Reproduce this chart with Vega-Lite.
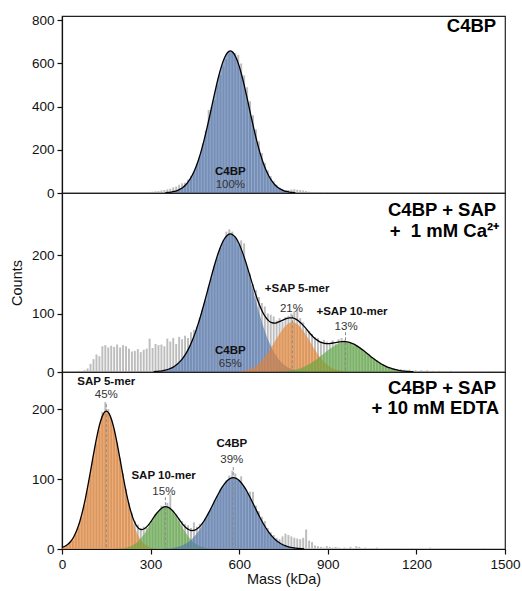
{
"$schema": "https://vega.github.io/schema/vega-lite/v6.json",
"padding": {"top": 12, "left": 8, "right": 3, "bottom": 5},
"background": "white",
"config": {
 "font": "Liberation Sans",
 "view": {"stroke": "#222", "strokeWidth": 1.2},
 "axis": {"grid": false, "domainColor": "#111", "tickColor": "#111", "labelColor": "#111", "labelFontSize": 13.5, "titleFontSize": 14.5, "titleFontWeight": "normal", "titleColor": "#111", "tickSize": 5, "labelPadding": 3, "domainWidth": 1.2, "tickWidth": 1.2, "labelFlush": false}
},
"datasets": {
"bars1": [
{"m":205,"c":1},{"m":235,"c":2},{"m":255,"c":2},{"m":265,"c":3},{"m":275,"c":2},{"m":285,"c":4},{"m":295,"c":5},{"m":305,"c":6},{"m":315,"c":8},{"m":325,"c":9},{"m":335,"c":12},{"m":345,"c":14},{"m":355,"c":17},{"m":365,"c":20},{"m":375,"c":26},{"m":385,"c":30},{"m":395,"c":38},{"m":405,"c":45},{"m":415,"c":48},{"m":425,"c":62},{"m":435,"c":80},{"m":445,"c":98},{"m":455,"c":135},{"m":465,"c":170},{"m":475,"c":230},{"m":485,"c":290},{"m":495,"c":385},{"m":505,"c":400},{"m":515,"c":430},{"m":525,"c":500},{"m":535,"c":545},{"m":545,"c":590},{"m":555,"c":620},{"m":565,"c":650},{"m":575,"c":655},{"m":585,"c":648},{"m":595,"c":640},{"m":605,"c":600},{"m":615,"c":545},{"m":625,"c":490},{"m":635,"c":425},{"m":645,"c":360},{"m":655,"c":295},{"m":665,"c":240},{"m":675,"c":185},{"m":685,"c":140},{"m":695,"c":105},{"m":705,"c":78},{"m":715,"c":55},{"m":725,"c":38},{"m":735,"c":26},{"m":745,"c":18},{"m":755,"c":13},{"m":765,"c":14},{"m":775,"c":16},{"m":785,"c":17},{"m":795,"c":15},{"m":805,"c":14},{"m":815,"c":12},{"m":825,"c":9},{"m":835,"c":6},{"m":845,"c":5},{"m":855,"c":4},{"m":865,"c":3},{"m":875,"c":2},{"m":895,"c":3},{"m":915,"c":2},{"m":945,"c":1},{"m":975,"c":2},{"m":1005,"c":2},{"m":1035,"c":1},{"m":1075,"c":2},{"m":1105,"c":1},{"m":1155,"c":1},{"m":1205,"c":2},{"m":1265,"c":1},{"m":1325,"c":1}
],
"bars2": [
{"m":45,"c":1},{"m":55,"c":2},{"m":65,"c":1},{"m":75,"c":3},{"m":85,"c":6},{"m":95,"c":14},{"m":105,"c":22},{"m":115,"c":30},{"m":125,"c":27},{"m":135,"c":44},{"m":145,"c":46},{"m":155,"c":42},{"m":165,"c":45},{"m":175,"c":43},{"m":185,"c":47},{"m":195,"c":42},{"m":205,"c":46},{"m":215,"c":44},{"m":225,"c":40},{"m":235,"c":35},{"m":245,"c":36},{"m":255,"c":39},{"m":265,"c":34},{"m":275,"c":38},{"m":285,"c":40},{"m":295,"c":57},{"m":305,"c":41},{"m":315,"c":48},{"m":325,"c":46},{"m":335,"c":47},{"m":345,"c":44},{"m":355,"c":57},{"m":365,"c":52},{"m":375,"c":58},{"m":385,"c":48},{"m":395,"c":60},{"m":405,"c":56},{"m":415,"c":62},{"m":425,"c":58},{"m":435,"c":68},{"m":445,"c":72},{"m":455,"c":78},{"m":465,"c":92},{"m":475,"c":108},{"m":485,"c":122},{"m":495,"c":145},{"m":505,"c":160},{"m":515,"c":182},{"m":525,"c":195},{"m":535,"c":212},{"m":545,"c":226},{"m":555,"c":240},{"m":565,"c":244},{"m":575,"c":240},{"m":585,"c":232},{"m":595,"c":216},{"m":605,"c":225},{"m":615,"c":220},{"m":625,"c":180},{"m":635,"c":168},{"m":645,"c":150},{"m":655,"c":140},{"m":665,"c":128},{"m":675,"c":118},{"m":685,"c":112},{"m":695,"c":100},{"m":705,"c":98},{"m":715,"c":95},{"m":725,"c":88},{"m":735,"c":92},{"m":745,"c":86},{"m":755,"c":94},{"m":765,"c":96},{"m":775,"c":100},{"m":785,"c":104},{"m":795,"c":108},{"m":805,"c":92},{"m":815,"c":85},{"m":825,"c":74},{"m":835,"c":70},{"m":845,"c":65},{"m":855,"c":60},{"m":865,"c":58},{"m":875,"c":52},{"m":885,"c":55},{"m":895,"c":52},{"m":905,"c":50},{"m":915,"c":54},{"m":925,"c":48},{"m":935,"c":56},{"m":945,"c":58},{"m":955,"c":55},{"m":965,"c":50},{"m":975,"c":48},{"m":985,"c":44},{"m":995,"c":46},{"m":1005,"c":40},{"m":1015,"c":38},{"m":1025,"c":33},{"m":1035,"c":30},{"m":1045,"c":26},{"m":1055,"c":24},{"m":1065,"c":20},{"m":1075,"c":16},{"m":1085,"c":13},{"m":1095,"c":10},{"m":1105,"c":8},{"m":1115,"c":6},{"m":1125,"c":5},{"m":1135,"c":4},{"m":1145,"c":5},{"m":1155,"c":4},{"m":1165,"c":3},{"m":1175,"c":4},{"m":1185,"c":2},{"m":1195,"c":3},{"m":1205,"c":2},{"m":1215,"c":3},{"m":1225,"c":2},{"m":1235,"c":3},{"m":1245,"c":1},{"m":1255,"c":2},{"m":1275,"c":2},{"m":1295,"c":1},{"m":1315,"c":2},{"m":1345,"c":1},{"m":1375,"c":1},{"m":1405,"c":1},{"m":1445,"c":1}
],
"bars3": [
{"m":5,"c":2},{"m":15,"c":4},{"m":25,"c":7},{"m":35,"c":12},{"m":45,"c":20},{"m":55,"c":30},{"m":65,"c":44},{"m":75,"c":62},{"m":85,"c":82},{"m":95,"c":106},{"m":105,"c":128},{"m":115,"c":150},{"m":125,"c":170},{"m":135,"c":196},{"m":145,"c":210},{"m":155,"c":200},{"m":165,"c":186},{"m":175,"c":170},{"m":185,"c":152},{"m":195,"c":130},{"m":205,"c":108},{"m":215,"c":86},{"m":225,"c":66},{"m":235,"c":52},{"m":245,"c":40},{"m":255,"c":35},{"m":265,"c":30},{"m":275,"c":32},{"m":285,"c":30},{"m":295,"c":36},{"m":305,"c":40},{"m":315,"c":50},{"m":325,"c":54},{"m":335,"c":62},{"m":345,"c":60},{"m":355,"c":66},{"m":365,"c":78},{"m":375,"c":55},{"m":385,"c":50},{"m":395,"c":44},{"m":405,"c":40},{"m":415,"c":36},{"m":425,"c":34},{"m":435,"c":30},{"m":445,"c":38},{"m":455,"c":32},{"m":465,"c":36},{"m":475,"c":38},{"m":485,"c":44},{"m":495,"c":52},{"m":505,"c":58},{"m":515,"c":70},{"m":525,"c":76},{"m":535,"c":85},{"m":545,"c":88},{"m":555,"c":98},{"m":565,"c":105},{"m":575,"c":112},{"m":585,"c":108},{"m":595,"c":98},{"m":605,"c":104},{"m":615,"c":90},{"m":625,"c":80},{"m":635,"c":82},{"m":645,"c":82},{"m":655,"c":62},{"m":665,"c":54},{"m":675,"c":46},{"m":685,"c":40},{"m":695,"c":30},{"m":705,"c":24},{"m":715,"c":20},{"m":725,"c":16},{"m":735,"c":14},{"m":745,"c":18},{"m":755,"c":22},{"m":765,"c":20},{"m":775,"c":18},{"m":785,"c":16},{"m":795,"c":15},{"m":805,"c":14},{"m":815,"c":16},{"m":825,"c":28},{"m":835,"c":12},{"m":845,"c":10},{"m":855,"c":5},{"m":865,"c":4},{"m":875,"c":3},{"m":885,"c":2},{"m":895,"c":4},{"m":905,"c":3},{"m":915,"c":2},{"m":925,"c":3},{"m":935,"c":2},{"m":955,"c":2},{"m":975,"c":3},{"m":995,"c":4},{"m":1005,"c":3},{"m":1025,"c":2},{"m":1045,"c":1},{"m":1065,"c":2},{"m":1095,"c":1},{"m":1125,"c":1},{"m":1185,"c":1},{"m":1245,"c":2},{"m":1305,"c":1},{"m":1425,"c":1}
],
"curves1": [
{"k":"C4BP","m":350,"c":1.6},{"k":"C4BP","m":360,"c":2.6},{"k":"C4BP","m":370,"c":4.4},{"k":"C4BP","m":380,"c":7.2},{"k":"C4BP","m":390,"c":11.4},{"k":"C4BP","m":400,"c":17.8},{"k":"C4BP","m":410,"c":26.8},{"k":"C4BP","m":420,"c":39.5},{"k":"C4BP","m":430,"c":56.8},{"k":"C4BP","m":440,"c":79.6},{"k":"C4BP","m":450,"c":108.8},{"k":"C4BP","m":460,"c":145},{"k":"C4BP","m":470,"c":188.5},{"k":"C4BP","m":480,"c":239.1},{"k":"C4BP","m":490,"c":295.6},{"k":"C4BP","m":500,"c":356.6},{"k":"C4BP","m":510,"c":419.5},{"k":"C4BP","m":520,"c":481.4},{"k":"C4BP","m":530,"c":538.7},{"k":"C4BP","m":540,"c":588},{"k":"C4BP","m":550,"c":625.9},{"k":"C4BP","m":560,"c":649.8},{"k":"C4BP","m":570,"c":658},{"k":"C4BP","m":580,"c":649.8},{"k":"C4BP","m":590,"c":625.9},{"k":"C4BP","m":600,"c":588},{"k":"C4BP","m":610,"c":538.7},{"k":"C4BP","m":620,"c":481.4},{"k":"C4BP","m":630,"c":419.5},{"k":"C4BP","m":640,"c":356.6},{"k":"C4BP","m":650,"c":295.6},{"k":"C4BP","m":660,"c":239.1},{"k":"C4BP","m":670,"c":188.5},{"k":"C4BP","m":680,"c":145},{"k":"C4BP","m":690,"c":108.8},{"k":"C4BP","m":700,"c":79.6},{"k":"C4BP","m":710,"c":56.8},{"k":"C4BP","m":720,"c":39.5},{"k":"C4BP","m":730,"c":26.8},{"k":"C4BP","m":740,"c":17.8},{"k":"C4BP","m":750,"c":11.4},{"k":"C4BP","m":760,"c":7.2},{"k":"C4BP","m":770,"c":4.4},{"k":"C4BP","m":780,"c":2.6},{"k":"C4BP","m":790,"c":1.6}
],
"curves2": [
{"k":"C4BP","m":310,"c":0.6},{"k":"C4BP","m":320,"c":0.9},{"k":"C4BP","m":330,"c":1.4},{"k":"C4BP","m":340,"c":2.1},{"k":"C4BP","m":350,"c":3.2},{"k":"C4BP","m":360,"c":4.7},{"k":"C4BP","m":370,"c":6.7},{"k":"C4BP","m":380,"c":9.5},{"k":"C4BP","m":390,"c":13.2},{"k":"C4BP","m":400,"c":18.1},{"k":"C4BP","m":410,"c":24.2},{"k":"C4BP","m":420,"c":31.9},{"k":"C4BP","m":430,"c":41.3},{"k":"C4BP","m":440,"c":52.5},{"k":"C4BP","m":450,"c":65.6},{"k":"C4BP","m":460,"c":80.5},{"k":"C4BP","m":470,"c":97},{"k":"C4BP","m":480,"c":114.9},{"k":"C4BP","m":490,"c":133.6},{"k":"C4BP","m":500,"c":152.7},{"k":"C4BP","m":510,"c":171.4},{"k":"C4BP","m":520,"c":189},{"k":"C4BP","m":530,"c":204.7},{"k":"C4BP","m":540,"c":217.9},{"k":"C4BP","m":550,"c":227.8},{"k":"C4BP","m":560,"c":233.9},{"k":"C4BP","m":570,"c":236},{"k":"C4BP","m":580,"c":233.9},{"k":"C4BP","m":590,"c":227.8},{"k":"C4BP","m":600,"c":217.9},{"k":"C4BP","m":610,"c":204.7},{"k":"C4BP","m":620,"c":189},{"k":"C4BP","m":630,"c":171.4},{"k":"C4BP","m":640,"c":152.7},{"k":"C4BP","m":650,"c":133.6},{"k":"C4BP","m":660,"c":114.9},{"k":"C4BP","m":670,"c":97},{"k":"C4BP","m":680,"c":80.5},{"k":"C4BP","m":690,"c":65.6},{"k":"C4BP","m":700,"c":52.5},{"k":"C4BP","m":710,"c":41.3},{"k":"C4BP","m":720,"c":31.9},{"k":"C4BP","m":730,"c":24.2},{"k":"C4BP","m":740,"c":18.1},{"k":"C4BP","m":750,"c":13.2},{"k":"C4BP","m":760,"c":9.5},{"k":"C4BP","m":770,"c":6.7},{"k":"C4BP","m":780,"c":4.7},{"k":"C4BP","m":790,"c":3.2},{"k":"C4BP","m":800,"c":2.1},{"k":"C4BP","m":810,"c":1.4},{"k":"C4BP","m":820,"c":0.9},{"k":"C4BP","m":830,"c":0.6},
{"k":"SAP5","m":590,"c":0.6},{"k":"SAP5","m":600,"c":0.9},{"k":"SAP5","m":610,"c":1.5},{"k":"SAP5","m":620,"c":2.4},{"k":"SAP5","m":630,"c":3.7},{"k":"SAP5","m":640,"c":5.6},{"k":"SAP5","m":650,"c":8.1},{"k":"SAP5","m":660,"c":11.5},{"k":"SAP5","m":670,"c":15.8},{"k":"SAP5","m":680,"c":21.2},{"k":"SAP5","m":690,"c":27.6},{"k":"SAP5","m":700,"c":34.9},{"k":"SAP5","m":710,"c":43},{"k":"SAP5","m":720,"c":51.6},{"k":"SAP5","m":730,"c":60.1},{"k":"SAP5","m":740,"c":68.1},{"k":"SAP5","m":750,"c":75},{"k":"SAP5","m":760,"c":80.4},{"k":"SAP5","m":770,"c":83.8},{"k":"SAP5","m":780,"c":85},{"k":"SAP5","m":790,"c":83.8},{"k":"SAP5","m":800,"c":80.4},{"k":"SAP5","m":810,"c":75},{"k":"SAP5","m":820,"c":68.1},{"k":"SAP5","m":830,"c":60.1},{"k":"SAP5","m":840,"c":51.6},{"k":"SAP5","m":850,"c":43},{"k":"SAP5","m":860,"c":34.9},{"k":"SAP5","m":870,"c":27.6},{"k":"SAP5","m":880,"c":21.2},{"k":"SAP5","m":890,"c":15.8},{"k":"SAP5","m":900,"c":11.5},{"k":"SAP5","m":910,"c":8.1},{"k":"SAP5","m":920,"c":5.6},{"k":"SAP5","m":930,"c":3.7},{"k":"SAP5","m":940,"c":2.4},{"k":"SAP5","m":950,"c":1.5},{"k":"SAP5","m":960,"c":0.9},{"k":"SAP5","m":970,"c":0.6},
{"k":"SAP10","m":730,"c":0.5},{"k":"SAP10","m":740,"c":0.7},{"k":"SAP10","m":750,"c":1},{"k":"SAP10","m":760,"c":1.5},{"k":"SAP10","m":770,"c":2.1},{"k":"SAP10","m":780,"c":2.9},{"k":"SAP10","m":790,"c":3.9},{"k":"SAP10","m":800,"c":5.2},{"k":"SAP10","m":810,"c":6.9},{"k":"SAP10","m":820,"c":8.9},{"k":"SAP10","m":830,"c":11.4},{"k":"SAP10","m":840,"c":14.2},{"k":"SAP10","m":850,"c":17.4},{"k":"SAP10","m":860,"c":21},{"k":"SAP10","m":870,"c":24.8},{"k":"SAP10","m":880,"c":28.9},{"k":"SAP10","m":890,"c":33},{"k":"SAP10","m":900,"c":37},{"k":"SAP10","m":910,"c":40.8},{"k":"SAP10","m":920,"c":44.2},{"k":"SAP10","m":930,"c":47.1},{"k":"SAP10","m":940,"c":49.2},{"k":"SAP10","m":950,"c":50.5},{"k":"SAP10","m":960,"c":51},{"k":"SAP10","m":970,"c":50.5},{"k":"SAP10","m":980,"c":49.2},{"k":"SAP10","m":990,"c":47.1},{"k":"SAP10","m":1000,"c":44.2},{"k":"SAP10","m":1010,"c":40.8},{"k":"SAP10","m":1020,"c":37},{"k":"SAP10","m":1030,"c":33},{"k":"SAP10","m":1040,"c":28.9},{"k":"SAP10","m":1050,"c":24.8},{"k":"SAP10","m":1060,"c":21},{"k":"SAP10","m":1070,"c":17.4},{"k":"SAP10","m":1080,"c":14.2},{"k":"SAP10","m":1090,"c":11.4},{"k":"SAP10","m":1100,"c":8.9},{"k":"SAP10","m":1110,"c":6.9},{"k":"SAP10","m":1120,"c":5.2},{"k":"SAP10","m":1130,"c":3.9},{"k":"SAP10","m":1140,"c":2.9},{"k":"SAP10","m":1150,"c":2.1},{"k":"SAP10","m":1160,"c":1.5},{"k":"SAP10","m":1170,"c":1},{"k":"SAP10","m":1180,"c":0.7},{"k":"SAP10","m":1190,"c":0.5}
],
"curves3": [
{"k":"SAP5","m":0,"c":2.2},{"k":"SAP5","m":10,"c":3.9},{"k":"SAP5","m":20,"c":6.7},{"k":"SAP5","m":30,"c":11.1},{"k":"SAP5","m":40,"c":17.5},{"k":"SAP5","m":50,"c":26.7},{"k":"SAP5","m":60,"c":39},{"k":"SAP5","m":70,"c":54.8},{"k":"SAP5","m":80,"c":73.9},{"k":"SAP5","m":90,"c":95.9},{"k":"SAP5","m":100,"c":119.5},{"k":"SAP5","m":110,"c":143},{"k":"SAP5","m":120,"c":164.6},{"k":"SAP5","m":130,"c":181.9},{"k":"SAP5","m":140,"c":193.1},{"k":"SAP5","m":150,"c":197},{"k":"SAP5","m":160,"c":193.1},{"k":"SAP5","m":170,"c":181.9},{"k":"SAP5","m":180,"c":164.6},{"k":"SAP5","m":190,"c":143},{"k":"SAP5","m":200,"c":119.5},{"k":"SAP5","m":210,"c":95.9},{"k":"SAP5","m":220,"c":73.9},{"k":"SAP5","m":230,"c":54.8},{"k":"SAP5","m":240,"c":39},{"k":"SAP5","m":250,"c":26.7},{"k":"SAP5","m":260,"c":17.5},{"k":"SAP5","m":270,"c":11.1},{"k":"SAP5","m":280,"c":6.7},{"k":"SAP5","m":290,"c":3.9},{"k":"SAP5","m":300,"c":2.2},{"k":"SAP5","m":310,"c":1.2},{"k":"SAP5","m":320,"c":0.6},
{"k":"SAP10","m":180,"c":0.2},{"k":"SAP10","m":190,"c":0.4},{"k":"SAP10","m":200,"c":0.7},{"k":"SAP10","m":210,"c":1.2},{"k":"SAP10","m":220,"c":2},{"k":"SAP10","m":230,"c":3.4},{"k":"SAP10","m":240,"c":5.3},{"k":"SAP10","m":250,"c":8.1},{"k":"SAP10","m":260,"c":11.9},{"k":"SAP10","m":270,"c":16.7},{"k":"SAP10","m":280,"c":22.5},{"k":"SAP10","m":290,"c":29.2},{"k":"SAP10","m":300,"c":36.4},{"k":"SAP10","m":310,"c":43.6},{"k":"SAP10","m":320,"c":50.1},{"k":"SAP10","m":330,"c":55.4},{"k":"SAP10","m":340,"c":58.8},{"k":"SAP10","m":350,"c":60},{"k":"SAP10","m":360,"c":58.8},{"k":"SAP10","m":370,"c":55.4},{"k":"SAP10","m":380,"c":50.1},{"k":"SAP10","m":390,"c":43.6},{"k":"SAP10","m":400,"c":36.4},{"k":"SAP10","m":410,"c":29.2},{"k":"SAP10","m":420,"c":22.5},{"k":"SAP10","m":430,"c":16.7},{"k":"SAP10","m":440,"c":11.9},{"k":"SAP10","m":450,"c":8.1},{"k":"SAP10","m":460,"c":5.3},{"k":"SAP10","m":470,"c":3.4},{"k":"SAP10","m":480,"c":2},{"k":"SAP10","m":490,"c":1.2},{"k":"SAP10","m":500,"c":0.7},{"k":"SAP10","m":510,"c":0.4},{"k":"SAP10","m":520,"c":0.2},
{"k":"C4BP","m":340,"c":0.3},{"k":"C4BP","m":350,"c":0.5},{"k":"C4BP","m":360,"c":0.8},{"k":"C4BP","m":370,"c":1.2},{"k":"C4BP","m":380,"c":1.9},{"k":"C4BP","m":390,"c":2.8},{"k":"C4BP","m":400,"c":4},{"k":"C4BP","m":410,"c":5.7},{"k":"C4BP","m":420,"c":7.9},{"k":"C4BP","m":430,"c":10.8},{"k":"C4BP","m":440,"c":14.4},{"k":"C4BP","m":450,"c":18.8},{"k":"C4BP","m":460,"c":24.2},{"k":"C4BP","m":470,"c":30.4},{"k":"C4BP","m":480,"c":37.5},{"k":"C4BP","m":490,"c":45.4},{"k":"C4BP","m":500,"c":53.8},{"k":"C4BP","m":510,"c":62.5},{"k":"C4BP","m":520,"c":71.2},{"k":"C4BP","m":530,"c":79.4},{"k":"C4BP","m":540,"c":86.9},{"k":"C4BP","m":550,"c":93.2},{"k":"C4BP","m":560,"c":98},{"k":"C4BP","m":570,"c":101},{"k":"C4BP","m":580,"c":102},{"k":"C4BP","m":590,"c":101},{"k":"C4BP","m":600,"c":98},{"k":"C4BP","m":610,"c":93.2},{"k":"C4BP","m":620,"c":86.9},{"k":"C4BP","m":630,"c":79.4},{"k":"C4BP","m":640,"c":71.2},{"k":"C4BP","m":650,"c":62.5},{"k":"C4BP","m":660,"c":53.8},{"k":"C4BP","m":670,"c":45.4},{"k":"C4BP","m":680,"c":37.5},{"k":"C4BP","m":690,"c":30.4},{"k":"C4BP","m":700,"c":24.2},{"k":"C4BP","m":710,"c":18.8},{"k":"C4BP","m":720,"c":14.4},{"k":"C4BP","m":730,"c":10.8},{"k":"C4BP","m":740,"c":7.9},{"k":"C4BP","m":750,"c":5.7},{"k":"C4BP","m":760,"c":4},{"k":"C4BP","m":770,"c":2.8},{"k":"C4BP","m":780,"c":1.9},{"k":"C4BP","m":790,"c":1.2},{"k":"C4BP","m":800,"c":0.8},{"k":"C4BP","m":810,"c":0.5},{"k":"C4BP","m":820,"c":0.3}
],
"rules2": [{"m":780,"c":97},{"m":960,"c":68}],
"rules3": [{"m":150,"c":207},{"m":350,"c":74},{"m":580,"c":117}],
"labels1": [
{"g":"name","m":570,"c":98,"t":"C4BP"},{"g":"pct","m":570,"c":37,"t":"100%"},{"g":"title","m":1470,"c":773,"t":"C4BP"}
],
"labels2": [
{"g":"name","m":570,"c":36.5,"t":"C4BP"},{"g":"pct","m":570,"c":13.5,"t":"65%"},{"g":"name","m":796,"c":142,"t":"+SAP 5-mer"},{"g":"pct","m":777,"c":108,"t":"21%"},{"g":"name","m":982,"c":102,"t":"+SAP 10-mer"},{"g":"pct","m":962,"c":77,"t":"13%"},{"g":"title","m":1470,"c":277,"t":"C4BP + SAP"},{"g":"title","m":1480,"c":241,"t":"+\u00a0 1 mM Ca²⁺"}
],
"labels3": [
{"g":"name","m":150,"c":238,"t":"SAP 5-mer"},{"g":"pct","m":150,"c":220,"t":"45%"},{"g":"name","m":344,"c":104,"t":"SAP 10-mer"},{"g":"pct","m":345,"c":81,"t":"15%"},{"g":"name","m":575,"c":150,"t":"C4BP"},{"g":"pct","m":575,"c":127,"t":"39%"},{"g":"title","m":1470,"c":230,"t":"C4BP + SAP"},{"g":"title","m":1480,"c":201,"t":"+ 10 mM EDTA"}
]
},
"spacing": 0,
"bounds": "flush",
"vconcat": [
{
 "width": 443, "height": 177,
 "encoding": {
  "x": {"field": "m", "type": "quantitative", "scale": {"domain": [0, 1500], "nice": false}, "axis": null},
  "y": {"field": "c", "type": "quantitative", "scale": {"domain": [0, 820], "nice": false}, "axis": {"values": [0, 200, 400, 600, 800], "title": null}}
 },
 "layer": [
  {"data": {"name": "bars1"}, "mark": {"type": "bar", "color": "#bdbdbd", "binSpacing": 1},
   "encoding": {
    "x": {"field": "m", "type": "quantitative", "bin": {"step": 10, "extent": [0, 1500]}, "scale": {"domain": [0, 1500], "nice": false}, "axis": null},
    "y": {"field": "c", "type": "quantitative", "aggregate": "sum", "scale": {"domain": [0, 820], "nice": false}, "axis": {"values": [0, 200, 400, 600, 800], "title": null}}
   }},
  {"data": {"name": "curves1"}, "mark": {"type": "area", "opacity": 0.62, "interpolate": "monotone"},
   "encoding": {
    "y": {"field": "c", "type": "quantitative", "stack": null, "scale": {"domain": [0, 820], "nice": false}, "axis": {"values": [0, 200, 400, 600, 800], "title": null}},
    "color": {"field": "k", "type": "nominal", "scale": {"domain": ["C4BP", "SAP5", "SAP10"], "range": ["#4c72b0", "#ea7f2a", "#5aa83c"]}, "legend": null}
   }},
  {"data": {"name": "curves1"}, "mark": {"type": "line", "color": "#000", "strokeWidth": 1.3, "interpolate": "monotone"},
   "encoding": {"y": {"field": "c", "type": "quantitative", "aggregate": "sum", "scale": {"domain": [0, 820], "nice": false}, "axis": {"values": [0, 200, 400, 600, 800], "title": null}}}},
  {"data": {"name": "labels1"}, "transform": [{"filter": "datum.g == 'name'"}], "mark": {"type": "text", "fontWeight": "bold", "fontSize": 11.5, "color": "#111"}, "encoding": {"text": {"field": "t"}}},
  {"data": {"name": "labels1"}, "transform": [{"filter": "datum.g == 'pct'"}], "mark": {"type": "text", "fontSize": 11.5, "color": "#333"}, "encoding": {"text": {"field": "t"}}},
  {"data": {"name": "labels1"}, "transform": [{"filter": "datum.g == 'title'"}], "mark": {"type": "text", "fontWeight": "bold", "fontSize": 18.5, "align": "right", "color": "#000"}, "encoding": {"text": {"field": "t"}}}
 ]
},
{
 "width": 443, "height": 179,
 "encoding": {
  "x": {"field": "m", "type": "quantitative", "scale": {"domain": [0, 1500], "nice": false}, "axis": null},
  "y": {"field": "c", "type": "quantitative", "scale": {"domain": [0, 306], "nice": false}, "axis": {"values": [0, 100, 200], "title": "Counts", "titlePadding": 7}}
 },
 "layer": [
  {"data": {"name": "bars2"}, "mark": {"type": "bar", "color": "#bdbdbd", "binSpacing": 1},
   "encoding": {
    "x": {"field": "m", "type": "quantitative", "bin": {"step": 10, "extent": [0, 1500]}, "scale": {"domain": [0, 1500], "nice": false}, "axis": null},
    "y": {"field": "c", "type": "quantitative", "aggregate": "sum", "scale": {"domain": [0, 306], "nice": false}, "axis": {"values": [0, 100, 200], "title": "Counts", "titlePadding": 7}}
   }},
  {"data": {"name": "curves2"}, "mark": {"type": "area", "opacity": 0.62, "interpolate": "monotone"},
   "encoding": {
    "y": {"field": "c", "type": "quantitative", "stack": null, "scale": {"domain": [0, 306], "nice": false}, "axis": {"values": [0, 100, 200], "title": "Counts", "titlePadding": 7}},
    "color": {"field": "k", "type": "nominal", "scale": {"domain": ["C4BP", "SAP5", "SAP10"], "range": ["#4c72b0", "#ea7f2a", "#5aa83c"]}, "legend": null}
   }},
  {"data": {"name": "rules2"}, "mark": {"type": "rule", "color": "#8a8a8a", "strokeDash": [3, 2], "strokeWidth": 1}, "encoding": {"y2": {"datum": 0}}},
  {"data": {"name": "curves2"}, "mark": {"type": "line", "color": "#000", "strokeWidth": 1.3, "interpolate": "monotone"},
   "encoding": {"y": {"field": "c", "type": "quantitative", "aggregate": "sum", "scale": {"domain": [0, 306], "nice": false}, "axis": {"values": [0, 100, 200], "title": "Counts", "titlePadding": 7}}}},
  {"data": {"name": "labels2"}, "transform": [{"filter": "datum.g == 'name'"}], "mark": {"type": "text", "fontWeight": "bold", "fontSize": 11.5, "color": "#111"}, "encoding": {"text": {"field": "t"}}},
  {"data": {"name": "labels2"}, "transform": [{"filter": "datum.g == 'pct'"}], "mark": {"type": "text", "fontSize": 11.5, "color": "#333"}, "encoding": {"text": {"field": "t"}}},
  {"data": {"name": "labels2"}, "transform": [{"filter": "datum.g == 'title'"}], "mark": {"type": "text", "fontWeight": "bold", "fontSize": 18.5, "align": "right", "color": "#000"}, "encoding": {"text": {"field": "t"}}}
 ]
},
{
 "width": 443, "height": 177,
 "encoding": {
  "x": {"field": "m", "type": "quantitative", "scale": {"domain": [0, 1500], "nice": false}, "axis": {"values": [0, 300, 600, 900, 1200, 1500], "title": "Mass (kDa)", "titlePadding": 2, "format": "d"}},
  "y": {"field": "c", "type": "quantitative", "scale": {"domain": [0, 253], "nice": false}, "axis": {"values": [0, 100, 200], "title": null}}
 },
 "layer": [
  {"data": {"name": "bars3"}, "mark": {"type": "bar", "color": "#bdbdbd", "binSpacing": 1},
   "encoding": {
    "x": {"field": "m", "type": "quantitative", "bin": {"step": 10, "extent": [0, 1500]}, "scale": {"domain": [0, 1500], "nice": false}, "axis": {"values": [0, 300, 600, 900, 1200, 1500], "title": "Mass (kDa)", "titlePadding": 2, "format": "d"}},
    "y": {"field": "c", "type": "quantitative", "aggregate": "sum", "scale": {"domain": [0, 253], "nice": false}, "axis": {"values": [0, 100, 200], "title": null}}
   }},
  {"data": {"name": "curves3"}, "mark": {"type": "area", "opacity": 0.62, "interpolate": "monotone"},
   "encoding": {
    "y": {"field": "c", "type": "quantitative", "stack": null, "scale": {"domain": [0, 253], "nice": false}, "axis": {"values": [0, 100, 200], "title": null}},
    "color": {"field": "k", "type": "nominal", "scale": {"domain": ["C4BP", "SAP5", "SAP10"], "range": ["#4c72b0", "#ea7f2a", "#5aa83c"]}, "legend": null}
   }},
  {"data": {"name": "rules3"}, "mark": {"type": "rule", "color": "#8a8a8a", "strokeDash": [3, 2], "strokeWidth": 1}, "encoding": {"y2": {"datum": 0}}},
  {"data": {"name": "curves3"}, "mark": {"type": "line", "color": "#000", "strokeWidth": 1.3, "interpolate": "monotone"},
   "encoding": {"y": {"field": "c", "type": "quantitative", "aggregate": "sum", "scale": {"domain": [0, 253], "nice": false}, "axis": {"values": [0, 100, 200], "title": null}}}},
  {"data": {"name": "labels3"}, "transform": [{"filter": "datum.g == 'name'"}], "mark": {"type": "text", "fontWeight": "bold", "fontSize": 11.5, "color": "#111"}, "encoding": {"text": {"field": "t"}}},
  {"data": {"name": "labels3"}, "transform": [{"filter": "datum.g == 'pct'"}], "mark": {"type": "text", "fontSize": 11.5, "color": "#333"}, "encoding": {"text": {"field": "t"}}},
  {"data": {"name": "labels3"}, "transform": [{"filter": "datum.g == 'title'"}], "mark": {"type": "text", "fontWeight": "bold", "fontSize": 18.5, "align": "right", "color": "#000"}, "encoding": {"text": {"field": "t"}}}
 ]
}
]
}
